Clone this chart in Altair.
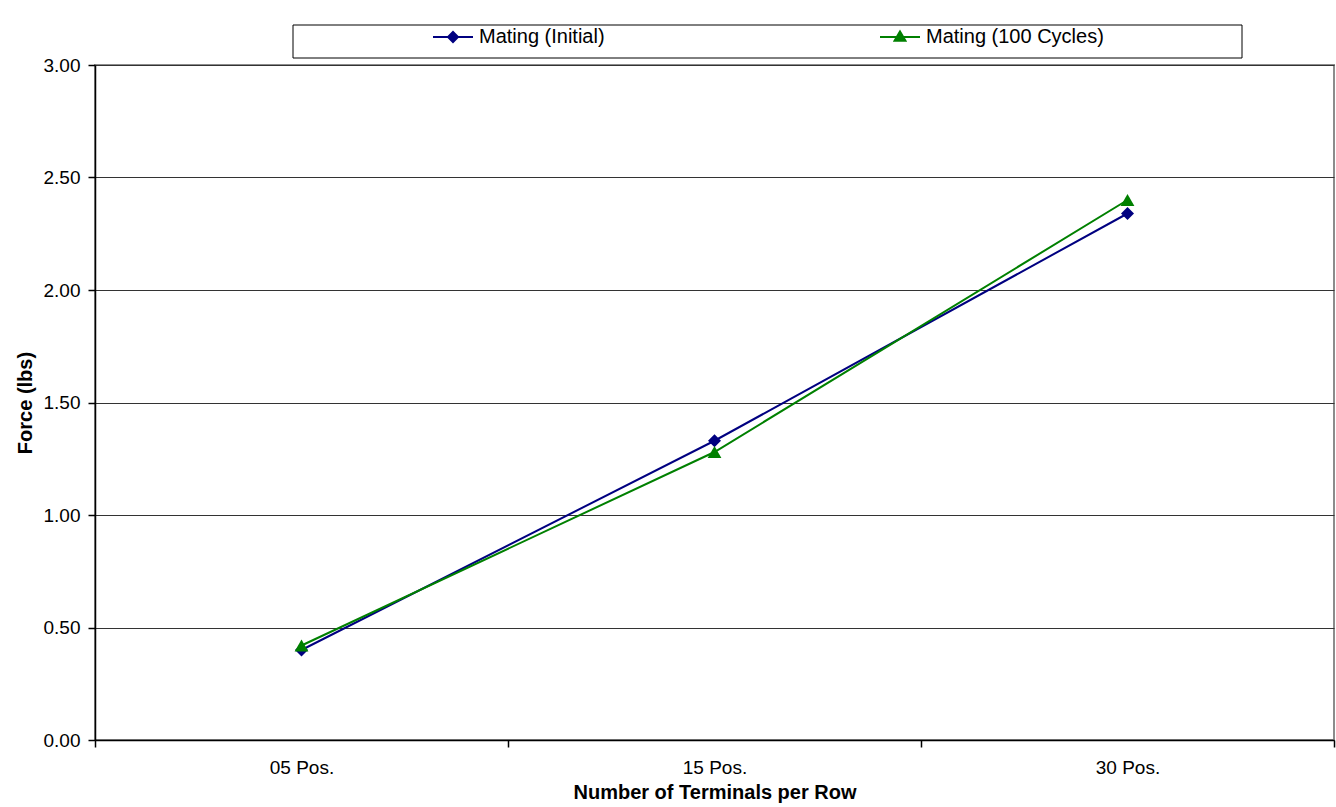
import altair as alt
import pandas as pd

# Connector mating force by row size
positions = ["05 Pos.", "15 Pos.", "30 Pos."]
series_names = ["Mating (Initial)", "Mating (100 Cycles)"]
initial_force = [0.40, 1.33, 2.34]
cycled_force = [0.42, 1.28, 2.40]

series_colors = ["#000080", "#008000"]
y_ticks = [0.0, 0.5, 1.0, 1.5, 2.0, 2.5, 3.0]

rows = []
for name, values in zip(series_names, [initial_force, cycled_force]):
    for pos, v in zip(positions, values):
        rows.append({"Row": pos, "Series": name, "Force": v})
df = pd.DataFrame(rows)

FONT = "Liberation Sans"
W, H = 1239, 675

x_enc = alt.X(
    "Row:N",
    sort=positions,
    scale=alt.Scale(domain=positions, paddingInner=0, paddingOuter=0),
    axis=alt.Axis(
        title="Number of Terminals per Row",
        labelAngle=0,
        tickBand="extent",
        tickSize=7,
        labelPadding=11,
        titlePadding=5,
        domainColor="black",
        tickColor="black",
        grid=False,
    ),
)
y_enc = alt.Y(
    "Force:Q",
    scale=alt.Scale(domain=[0, 3], nice=False),
    axis=alt.Axis(
        title="Force (lbs)",
        values=y_ticks,
        format=".2f",
        tickSize=7,
        labelPadding=8,
        titlePadding=8,
        domainColor="black",
        tickColor="black",
        grid=True,
        gridColor="#333333",
        gridWidth=1,
    ),
)

color_scale = alt.Scale(domain=series_names, range=series_colors)

lines = alt.Chart(df).mark_line(strokeWidth=2).encode(
    x=x_enc,
    y=y_enc,
    color=alt.Color("Series:N", scale=color_scale, legend=None),
)

points = alt.Chart(df).mark_point(filled=True, opacity=1, strokeWidth=0).encode(
    x=x_enc,
    y=y_enc,
    color=alt.Color("Series:N", scale=color_scale, legend=None),
    shape=alt.Shape(
        "Series:N",
        scale=alt.Scale(domain=series_names, range=["diamond", "triangle-up"]),
        legend=None,
    ),
    size=alt.Size(
        "Series:N",
        scale=alt.Scale(domain=series_names, range=[170, 190]),
        legend=None,
    ),
)

# Legend frame above the plot
frame = alt.Chart(pd.DataFrame({"k": [0]})).mark_rect(
    fill="white", stroke="black", strokeWidth=1
).encode(
    x=alt.value(198), x2=alt.value(1147), y=alt.value(-40), y2=alt.value(-7)
)

# Legend symbols: a short line with the series marker on it
legend_paths = [
    "M-1,-0.05H1V0.05H-1Z M0,-0.32L0.32,0L0,0.32L-0.32,0Z",
    "M-1,-0.05H1V0.05H-1Z M0,-0.38L0.36,0.24L-0.36,0.24Z",
]
legend_def = alt.Legend(
    title=None,
    orient="none",
    legendX=338,
    legendY=-48,
    direction="horizontal",
    labelFont=FONT,
    labelFontSize=20,
    labelColor="black",
    labelLimit=0,
    labelOffset=6,
    columnPadding=275,
    padding=0,
    symbolStrokeWidth=0,
    symbolSize=1600,
    symbolOpacity=1,
)
legend_layer = alt.Chart(df).transform_filter("false").mark_point(
    filled=True, size=1600, opacity=1, strokeWidth=0
).encode(
    x=x_enc,
    y=y_enc,
    color=alt.Color("Series:N", scale=color_scale, legend=legend_def),
    shape=alt.Shape(
        "Series:N",
        scale=alt.Scale(domain=series_names, range=legend_paths),
        legend=legend_def,
    ),
)

chart = (
    alt.layer(frame, lines, points, legend_layer)
    .resolve_scale(color="independent", shape="independent", size="independent")
    .properties(
        width=W,
        height=H,
        autosize=alt.AutoSizeParams(type="none"),
        padding={"left": 95, "top": 65, "right": 2, "bottom": 67},
        background="white",
    )
    .configure_view(stroke="#8c8c8c", strokeWidth=2)
    .configure_axis(
        labelFont=FONT,
        labelFontSize=19,
        labelColor="black",
        titleFont=FONT,
        titleFontSize=20,
        titleFontWeight="bold",
        titleColor="black",
        domainWidth=1.5,
        tickWidth=1.5,
    )
)

chart.save("out.html", embed_options={"renderer": "svg", "actions": False})
